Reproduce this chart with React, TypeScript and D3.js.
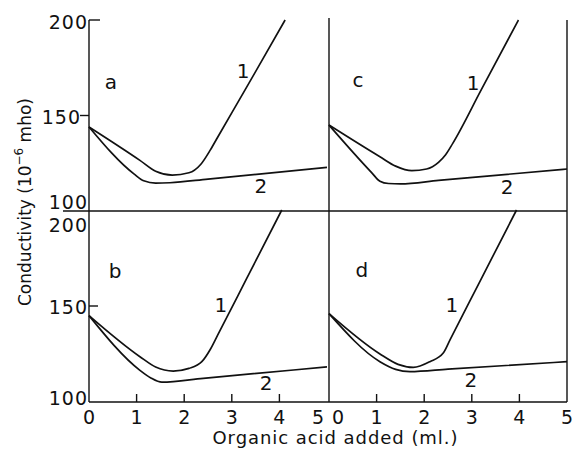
import React from 'react';
import * as d3 from 'd3';

// conductivity curves, [ml of acid added, conductivity in 10^-6 mho]
const curveA1: [number, number][] = [[0, 144], [1.07, 126.5], [1.4, 120.8], [1.75, 118.8], [2.1, 120], [2.35, 124.5], [2.55, 132], [2.7, 138.5], [3.3, 164.3], [4.12, 200]];
const curveA2: [number, number][] = [[0, 144], [0.95, 119.3], [1.15, 115.8], [1.4, 114.6], [1.7, 114.8], [2.5, 116.7], [5, 122.8]];
const curveB1: [number, number][] = [[0, 145], [1.07, 123.6], [1.4, 118.2], [1.77, 116.1], [2.1, 117.5], [2.37, 121], [2.55, 127.5], [2.7, 134.7], [3.3, 163.7], [4.05, 200]];
const curveB2: [number, number][] = [[0, 145], [1.07, 116.5], [1.3, 112.5], [1.53, 110.3], [2.4, 112.3], [5, 118.3]];
const curveC1: [number, number][] = [[0, 145], [1.07, 128.4], [1.4, 123.5], [1.74, 121.1], [2.05, 122], [2.3, 125.5], [2.45, 129.5], [2.6, 135.4], [3.2, 163.5], [3.98, 200]];
const curveC2: [number, number][] = [[0, 145], [0.9, 120], [1.07, 115.6], [1.25, 114.4], [1.5, 114.2], [2.3, 116], [5, 122]];
const curveD1: [number, number][] = [[0, 146], [1.07, 125], [1.45, 119.6], [1.77, 118], [2.12, 121], [2.4, 125.5], [2.55, 132.8], [3.15, 161.8], [3.94, 200]];
const curveD2: [number, number][] = [[0, 146], [1.07, 121], [1.4, 117], [1.7, 115.8], [2.5, 117.1], [5, 121]];

const xTicks = [0, 1, 2, 3, 4, 5];
const yTicks = [100, 150, 200];
const panelLetters = ['a', 'b', 'c', 'd'];
const curveNames = ['1', '2'];

const W = 573;
const H = 452;

const xLeft = d3.scaleLinear().domain([0, 5]).range([89, 327]);
const xRight = d3.scaleLinear().domain([0, 5]).range([329, 567]);
const yTop = d3.scaleLinear().domain([100, 200]).range([211, 20]);
const yBottom = d3.scaleLinear().domain([100, 200]).range([402, 210]);

const font = 'DejaVu Sans, sans-serif';

type Panel = {
  letter: string;
  x: d3.ScaleLinear<number, number>;
  y: d3.ScaleLinear<number, number>;
  c1: [number, number][];
  c2: [number, number][];
  letterAt: [number, number];
  l1At: [number, number];
  l2At: [number, number];
};

const panels: Panel[] = [
  { letter: panelLetters[0], x: xLeft, y: yTop, c1: curveA1, c2: curveA2, letterAt: [0.46, 167.5], l1At: [3.24, 173.3], l2At: [3.61, 113.1] },
  { letter: panelLetters[1], x: xLeft, y: yBottom, c1: curveB1, c2: curveB2, letterAt: [0.55, 168.2], l1At: [2.77, 150.5], l2At: [3.72, 109.9] },
  { letter: panelLetters[2], x: xRight, y: yTop, c1: curveC1, c2: curveC2, letterAt: [0.61, 168.6], l1At: [3.03, 167], l2At: [3.74, 112.6] },
  { letter: panelLetters[3], x: xRight, y: yBottom, c1: curveD1, c2: curveD2, letterAt: [0.69, 168.8], l1At: [2.58, 150.5], l2At: [2.98, 111.5] },
];

export default function App() {
  const stroke = '#111';
  return (
    <svg width={W} height={H} style={{ position: 'absolute', left: 0, top: 0, background: '#fff' }} fontFamily={font}>
      <rect width={W} height={H} fill="#fff" />
      {/* frame */}
      <g stroke={stroke} strokeWidth={1.4} fill="none">
        <line x1={xLeft(0)} x2={xLeft(0)} y1={yTop(200)} y2={yBottom(100)} />
        <line x1={xRight(0)} x2={xRight(0)} y1={yTop(200) - 2} y2={yBottom(100)} />
        <line x1={xRight(5)} x2={xRight(5)} y1={yTop(200)} y2={yBottom(100)} />
        <line x1={63} x2={xRight(5)} y1={yTop(100)} y2={yTop(100)} />
        <line x1={xLeft(0)} x2={xRight(5)} y1={yBottom(100)} y2={yBottom(100)} />
        {/* y ticks */}
        <line x1={xLeft(0)} x2={xLeft(0) + 11} y1={yTop(200)} y2={yTop(200)} />
        <line x1={xLeft(0) - 9} x2={xLeft(0)} y1={yTop(150)} y2={yTop(150)} />
        <line x1={xLeft(0)} x2={xLeft(0) + 9} y1={yBottom(150)} y2={yBottom(150)} />
        {/* x ticks */}
        {[xLeft, xRight].map((x, i) =>
          xTicks.slice(1, 5).map((t) => (
            <line key={`${i}-${t}`} x1={x(t)} x2={x(t)} y1={yBottom(100)} y2={yBottom(100) - 8} />
          ))
        )}
      </g>

      {/* y tick labels */}
      <g fontSize={19} letterSpacing={1} textAnchor="end" dominantBaseline="central" fill={stroke}>
        <text x={88} y={yTop(200) + 2}>{yTicks[2]}</text>
        <text x={81} y={yTop(150) + 1}>{yTicks[1]}</text>
        <text x={88} y={yTop(100) - 9}>{yTicks[0]}</text>
        <text x={88} y={yBottom(200) + 15}>{yTicks[2]}</text>
        <text x={88} y={yBottom(150) + 1}>{yTicks[1]}</text>
        <text x={88} y={yBottom(100) - 4}>{yTicks[0]}</text>
      </g>

      {/* x tick labels */}
      <g fontSize={19} textAnchor="middle" dominantBaseline="central" fill={stroke}>
        {xTicks.map((t) => (
          <text key={`l${t}`} x={t === 5 ? xLeft(t) - 9 : xLeft(t)} y={417}>{t}</text>
        ))}
        {xTicks.map((t) => (
          <text key={`r${t}`} x={t === 0 ? xRight(t) + 9 : xRight(t)} y={417}>{t}</text>
        ))}
      </g>

      {/* curves */}
      {panels.map((p) => {
        const line = d3
          .line<[number, number]>()
          .x((d) => p.x(d[0]))
          .y((d) => p.y(d[1]))
          .curve(d3.curveMonotoneX);
        return (
          <g key={p.letter}>
            <path d={line(p.c1) ?? ''} fill="none" stroke={stroke} strokeWidth={1.7} />
            <path d={line(p.c2) ?? ''} fill="none" stroke={stroke} strokeWidth={1.7} />
            <g fontSize={20} textAnchor="middle" dominantBaseline="central" fill={stroke}>
              <text x={p.x(p.letterAt[0])} y={p.y(p.letterAt[1])}>{p.letter}</text>
              <text x={p.x(p.l1At[0])} y={p.y(p.l1At[1])}>{curveNames[0]}</text>
              <text x={p.x(p.l2At[0])} y={p.y(p.l2At[1])}>{curveNames[1]}</text>
            </g>
          </g>
        );
      })}

      {/* axis titles */}
      <text
        transform="translate(25,202) rotate(-90)"
        textAnchor="middle"
        dominantBaseline="central"
        fontSize={17}
        fill={stroke}
      >
        Conductivity (10
        <tspan dy={-6} fontSize={12}>−6</tspan>
        <tspan dy={6}> mho)</tspan>
      </text>
      <text
        x={335}
        y={437}
        textAnchor="middle"
        dominantBaseline="central"
        fontSize={18}
        textLength={245}
        lengthAdjust="spacing"
        fill={stroke}
      >
        Organic acid added (ml.)
      </text>
    </svg>
  );
}
